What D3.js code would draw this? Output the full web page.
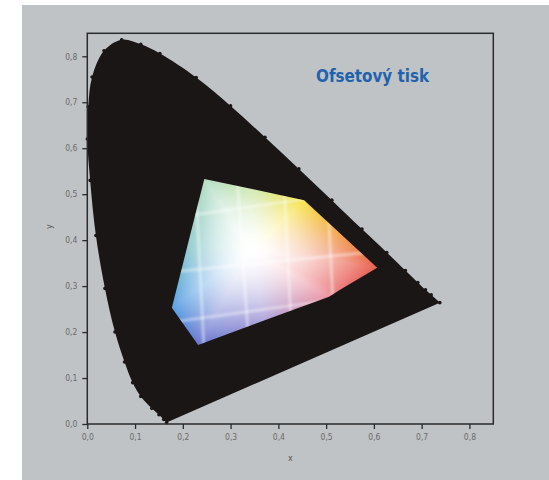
<!DOCTYPE html>
<html lang="cs">
<head>
    <meta charset="utf-8"/>
    <script src="https://d3js.org/d3.v7.min.js"></script>
    <style>
        body { margin: 0; background: #fff; }
        .tick text { font-family: "DejaVu Sans Condensed", "DejaVu Sans", sans-serif; }
    </style>
</head>
<body>
<svg width="549" height="480"></svg>

<script type="text/javascript">

    // spektrální křivka (chromatičnost x, y)
    const locusX = [0.166, 0.160, 0.150, 0.135, 0.112, 0.095, 0.078, 0.058, 0.037, 0.018, 0.006, 0.000, 0.002,
        0.010, 0.035, 0.072, 0.112, 0.152, 0.228, 0.300, 0.372, 0.443, 0.512, 0.575, 0.627, 0.666, 0.692,
        0.708, 0.720, 0.738];
    const locusY = [0.003, 0.010, 0.020, 0.034, 0.060, 0.090, 0.135, 0.200, 0.295, 0.410, 0.530, 0.620, 0.690,
        0.755, 0.812, 0.836, 0.826, 0.806, 0.754, 0.692, 0.624, 0.555, 0.487, 0.424, 0.373, 0.334, 0.308,
        0.292, 0.281, 0.264];

    // gamut ofsetového tisku
    const gamutX = [0.245, 0.350, 0.454, 0.530, 0.607, 0.531, 0.506, 0.370, 0.232, 0.177, 0.211];
    const gamutY = [0.533, 0.510, 0.487, 0.414, 0.340, 0.293, 0.277, 0.225, 0.172, 0.253, 0.393];
    const whitePoint = [0.345, 0.378];

    // světlá mřížka uvnitř gamutu (x1, y1, x2, y2)
    const gridX1 = [0.150, 0.150, 0.150, 0.225, 0.312, 0.410, 0.500];
    const gridY1 = [0.445, 0.328, 0.218, 0.560, 0.560, 0.560, 0.560];
    const gridX2 = [0.600, 0.650, 0.600, 0.245, 0.340, 0.430, 0.520];
    const gridY2 = [0.510, 0.380, 0.282, 0.150, 0.150, 0.150, 0.150];

    const tickValues = [0, 0.1, 0.2, 0.3, 0.4, 0.5, 0.6, 0.7, 0.8];
    const title = "Ofsetový tisk";

    // barvy okraje gamutu (styl, ne data)
    const gamutColors = ["#b4dec6", "#d4eab4", "#f6e248", "#f2a452", "#e8604f", "#ea7a7a", "#ec96a4",
        "#b0a6dc", "#6a78d0", "#5aa2e4", "#96cece"];

    const width = 549, height = 480;
    const plotLeft = 87.3, plotRight = 493.3, plotTop = 33.3, plotBottom = 424;

    const svg = d3.select("svg");

    // pozadí
    svg.append("rect").attr("width", width).attr("height", height).attr("fill", "#ffffff");
    svg.append("rect").attr("x", 22).attr("y", 5).attr("width", width - 22).attr("height", height - 5)
        .attr("fill", "#c0c3c6");

    let xScale = d3.scaleLinear().domain([0, 0.85]).range([plotLeft, plotRight]);
    let yScale = d3.scaleLinear().domain([0, 0.85]).range([plotBottom, plotTop]);

    const locus = locusX.map((d, i) => ({x: d, y: locusY[i]}));
    const gamut = gamutX.map((d, i) => ({x: d, y: gamutY[i]}));

    let line = d3.line()
        .x(d => xScale(d.x))
        .y(d => yScale(d.y))
        .curve(d3.curveLinearClosed);

    // černá plocha spektrální křivky, purpurová přímka je rovná
    let locusLine = d3.line()
        .x(d => xScale(d.x))
        .y(d => yScale(d.y))
        .curve(d3.curveCatmullRom);
    svg.append("path")
        .attr("d", locusLine(locus) + "Z")
        .attr("fill", "#1b1616");

    svg.selectAll(".dot")
        .data(locus)
        .enter()
        .append("circle")
        .attr("cx", d => xScale(d.x))
        .attr("cy", d => yScale(d.y))
        .attr("r", 1.8)
        .attr("fill", "#1b1616");

    // barevný přechod gamutu - kreslíme do canvasu
    const px0 = Math.floor(xScale(d3.min(gamutX))) - 2, px1 = Math.ceil(xScale(d3.max(gamutX))) + 2;
    const py0 = Math.floor(yScale(d3.max(gamutY))) - 2, py1 = Math.ceil(yScale(d3.min(gamutY))) + 2;
    const cw = px1 - px0, ch = py1 - py0;
    const canvas = document.createElement("canvas");
    canvas.width = cw;
    canvas.height = ch;
    const ctx = canvas.getContext("2d");
    const img = ctx.createImageData(cw, ch);
    const cols = gamutColors.map(c => d3.rgb(c));

    for (let j = 0; j < ch; j++) {
        for (let i = 0; i < cw; i++) {
            const px = xScale.invert(px0 + i + 0.5), py = yScale.invert(py0 + j + 0.5);
            const dx = px - whitePoint[0], dy = py - whitePoint[1];
            let best = null;
            for (let k = 0; k < gamut.length; k++) {
                const a = gamut[k], b = gamut[(k + 1) % gamut.length];
                const ex = b.x - a.x, ey = b.y - a.y;
                const den = dx * ey - dy * ex;
                if (Math.abs(den) < 1e-12) continue;
                const ax = a.x - whitePoint[0], ay = a.y - whitePoint[1];
                const t = (ax * ey - ay * ex) / den;
                const u = (ax * dy - ay * dx) / den;
                if (t > 0 && u >= -1e-9 && u <= 1 + 1e-9) {
                    if (!best || t < best.t) best = {t: t, u: u, k: k};
                }
            }
            let r = 255, g = 255, bl = 255;
            if (best) {
                const s = Math.min(1, 1 / best.t);
                const c0 = cols[best.k], c1 = cols[(best.k + 1) % cols.length];
                const f = Math.pow(s, 1.7);
                const er = c0.r + (c1.r - c0.r) * best.u;
                const eg = c0.g + (c1.g - c0.g) * best.u;
                const eb = c0.b + (c1.b - c0.b) * best.u;
                r = 255 + (er - 255) * f;
                g = 255 + (eg - 255) * f;
                bl = 255 + (eb - 255) * f;
            }
            const idx = (j * cw + i) * 4;
            img.data[idx] = r;
            img.data[idx + 1] = g;
            img.data[idx + 2] = bl;
            img.data[idx + 3] = 255;
        }
    }
    ctx.putImageData(img, 0, 0);

    const defs = svg.append("defs");
    defs.append("clipPath").attr("id", "gamutClip")
        .append("path").attr("d", line(gamut));
    defs.append("filter").attr("id", "soft")
        .append("feGaussianBlur").attr("stdDeviation", 1.2);

    const gg = svg.append("g").attr("clip-path", "url(#gamutClip)");
    gg.append("image")
        .attr("x", px0).attr("y", py0)
        .attr("width", cw).attr("height", ch)
        .attr("href", canvas.toDataURL());

    gg.selectAll(".grid")
        .data(gridX1)
        .enter()
        .append("line")
        .attr("x1", (d, i) => xScale(gridX1[i]))
        .attr("y1", (d, i) => yScale(gridY1[i]))
        .attr("x2", (d, i) => xScale(gridX2[i]))
        .attr("y2", (d, i) => yScale(gridY2[i]))
        .attr("stroke", "#ffffff")
        .attr("stroke-opacity", 0.4)
        .attr("stroke-width", 3)
        .attr("filter", "url(#soft)");

    // rámeček
    svg.append("rect")
        .attr("x", plotLeft).attr("y", plotTop)
        .attr("width", plotRight - plotLeft).attr("height", plotBottom - plotTop)
        .attr("fill", "none")
        .attr("stroke", "#2a2a2a")
        .attr("stroke-width", 1.5);

    const fmt = d => d3.format(".1f")(d).replace(".", ",");

    let xAxis = d3.axisBottom(xScale).tickValues(tickValues).tickFormat(fmt).tickSize(5).tickPadding(5);
    let yAxis = d3.axisLeft(yScale).tickValues(tickValues).tickFormat(fmt).tickSize(5).tickPadding(5);

    const xg = svg.append("g").attr("transform", "translate(0," + plotBottom + ")").call(xAxis);
    const yg = svg.append("g").attr("transform", "translate(" + plotLeft + ",0)").call(yAxis);
    [xg, yg].forEach(g => {
        g.select(".domain").remove();
        g.selectAll(".tick line").attr("stroke", "#2a2a2a").attr("stroke-width", 1.3);
        g.selectAll(".tick text").attr("fill", "#6a6a6a").style("font-size", "8.5px");
    });

    // popisky os
    svg.append("text")
        .attr("x", (plotLeft + plotRight) / 2).attr("y", 461)
        .attr("text-anchor", "middle")
        .attr("fill", "#555")
        .style("font-family", "DejaVu Sans")
        .style("font-size", "8px")
        .text("x");
    svg.append("text")
        .attr("transform", "translate(52," + ((plotTop + plotBottom) / 2 - 2) + ") rotate(-90)")
        .attr("text-anchor", "middle")
        .attr("fill", "#555")
        .style("font-family", "DejaVu Sans")
        .style("font-size", "8px")
        .text("y");

    svg.append("text")
        .attr("x", 316).attr("y", 82)
        .attr("fill", "#1f63ac")
        .attr("textLength", 113)
        .attr("lengthAdjust", "spacingAndGlyphs")
        .style("font-family", "'Liberation Sans Narrow', 'DejaVu Sans Condensed', sans-serif")
        .style("font-weight", "bold")
        .style("font-size", "17px")
        .text(title);

</script>
</body>
</html>
